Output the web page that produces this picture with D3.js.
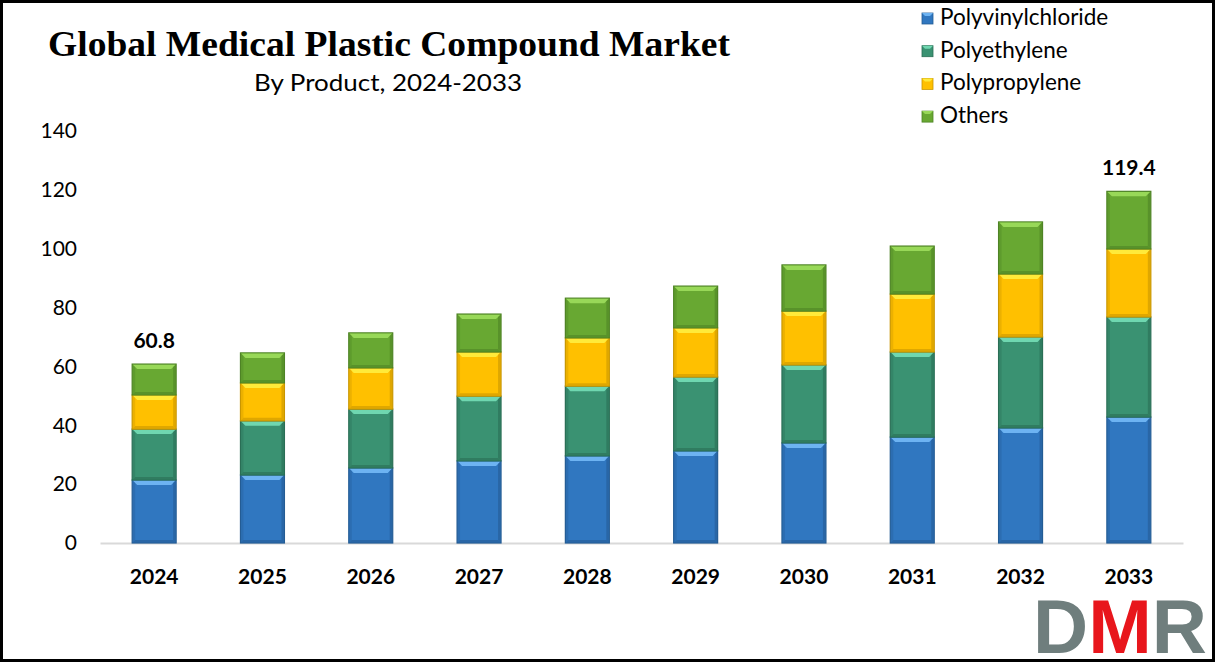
<!DOCTYPE html>
<html><head><meta charset="utf-8">
<script src="https://cdn.jsdelivr.net/npm/d3@7"></script>
<style>
html,body{margin:0;padding:0;background:#fff;}
svg{display:block;}
</style></head>
<body>
<script>
const years = ["2024","2025","2026","2027","2028","2029","2030","2031","2032","2033"];
const seriesNames = ["Polyvinylchloride","Polyethylene","Polypropylene","Others"];
const polyvinylchloride = [21.4,23.1,25.5,27.9,29.6,31.3,34.0,36.0,39.1,42.8];
const polyethylene      = [17.3,18.4,20.0,22.0,23.7,25.1,26.5,28.9,30.9,34.0];
const polypropylene     = [11.6,12.9,14.0,15.0,16.4,16.7,18.3,19.7,21.4,23.1];
const others            = [10.5,10.2,11.9,12.9,13.5,14.2,15.7,16.3,17.7,19.6];
const yTicks = [0,20,40,60,80,100,120,140];
const totalLabels = {"2024":"60.8","2033":"119.4"};

const colors = ["#3077C0","#3A9272","#FFC000","#68A832"];
const lightColors = ["#6DB3F2","#6FD7B0","#FFEA3A","#98D858"];
const darkColors = ["#245C94","#2A6E55","#C99600","#4E8325"];

const W=1215,H=662;
const svg=d3.select("body").append("svg").attr("width",W).attr("height",H);
svg.append("rect").attr("x",1.5).attr("y",1.5).attr("width",W-3).attr("height",H-3)
  .attr("fill","#fff").attr("stroke","#000").attr("stroke-width",3);

const x=d3.scaleBand().domain(years).range([100,1183]).paddingInner(0.594).paddingOuter(0.297);
const y=d3.scaleLinear().domain([0,140]).range([543,131]);

// title
svg.append("text").attr("x",48).attr("y",56).text("Global Medical Plastic Compound Market")
  .attr("font-family","Liberation Serif, Times New Roman, serif").attr("font-weight","bold")
  .attr("font-size",35).attr("textLength",682).attr("lengthAdjust","spacingAndGlyphs").attr("fill","#000");
svg.append("text").attr("x",254).attr("y",91).text("By Product, 2024-2033")
  .attr("font-family","Lato, Open Sans, sans-serif").attr("font-size",24)
  .attr("textLength",268).attr("lengthAdjust","spacingAndGlyphs").attr("fill","#000");

// y axis labels
const yAxis=d3.axisLeft(y).tickValues(yTicks).tickSize(0).tickPadding(0);
const ya=svg.append("g").attr("transform","translate(77,0)").call(yAxis);
ya.select(".domain").remove();
ya.selectAll("text").attr("font-family","Lato, Open Sans, sans-serif").attr("font-size",21).attr("fill","#000");

// x axis
const xAxis=d3.axisBottom(x).tickSize(0).tickPadding(0);
const xa=svg.append("g").attr("transform","translate(0,543)").call(xAxis);
xa.select(".domain").attr("stroke","#D9D9D9").attr("stroke-width",2);
xa.selectAll("text").attr("dy",0).attr("y",41).attr("font-family","Lato, Open Sans, sans-serif")
  .attr("font-weight","bold").attr("font-size",21).attr("fill","#000");

// stack
const rows=years.map((yr,i)=>({year:yr,Polyvinylchloride:polyvinylchloride[i],Polyethylene:polyethylene[i],Polypropylene:polypropylene[i],Others:others[i]}));
const stack=d3.stack().keys(seriesNames)(rows);
const bw=x.bandwidth();
stack.forEach((layer,si)=>{
  const g=svg.append("g");
  layer.forEach(d=>{
    const x0=x(d.data.year), y0=y(d[1]), y1=y(d[0]);
    g.append("rect").attr("x",x0).attr("y",y0).attr("width",bw).attr("height",y1-y0)
      .attr("fill",colors[si]).attr("stroke",darkColors[si]).attr("stroke-width",1.2);
    const b=5;
    g.append("path").attr("d",`M${x0+0.6},${y0+0.6}L${x0+bw-0.6},${y0+0.6}L${x0+bw-b},${y0+b}L${x0+b},${y0+b}Z`)
      .attr("fill",lightColors[si]);
    g.append("path").attr("d",`M${x0+bw-0.6},${y0+0.6}L${x0+bw-0.6},${y1-0.6}L${x0+bw-3},${y1-3}L${x0+bw-3},${y0+3}Z`)
      .attr("fill",darkColors[si]).attr("opacity",0.6);
    g.append("path").attr("d",`M${x0+0.6},${y0+0.6}L${x0+0.6},${y1-0.6}L${x0+3},${y1-3}L${x0+3},${y0+3}Z`)
      .attr("fill",darkColors[si]).attr("opacity",0.35);
    g.append("path").attr("d",`M${x0+0.6},${y1-0.6}L${x0+bw-0.6},${y1-0.6}L${x0+bw-3},${y1-3}L${x0+3},${y1-3}Z`)
      .attr("fill",darkColors[si]).attr("opacity",0.6);
  });
});

// total labels
const topLayer=stack[stack.length-1];
topLayer.forEach(d=>{
  const t=totalLabels[d.data.year];
  if(!t) return;
  svg.append("text").attr("x",x(d.data.year)+bw/2).attr("y",y(d[1])-16).attr("text-anchor","middle")
    .text(t).attr("font-family","Lato, Open Sans, sans-serif").attr("font-weight","bold").attr("font-size",21).attr("fill","#000");
});

// legend
const lg=svg.append("g");
seriesNames.forEach((n,i)=>{
  const yy=18+i*32.7;
  lg.append("rect").attr("x",922).attr("y",yy-5).attr("width",11).attr("height",11)
    .attr("fill",colors[i]).attr("stroke",darkColors[i]).attr("stroke-width",0.8);
  lg.append("path").attr("d",`M922,${yy-5}L933,${yy-5}L930,${yy-2}L925,${yy-2}Z`).attr("fill",lightColors[i]);
  lg.append("text").attr("x",940).attr("y",yy+7).text(n)
    .attr("font-family","Lato, Open Sans, sans-serif").attr("font-size",22.5).attr("fill","#000");
});

// DMR logo
const logo=svg.append("text").attr("x",1033).attr("y",653).attr("font-family","Liberation Sans, Arial, sans-serif")
  .attr("font-weight","bold").attr("font-size",76).attr("textLength",174).attr("lengthAdjust","spacingAndGlyphs");
logo.append("tspan").text("D").attr("fill","#6F7E7D");
logo.append("tspan").text("M").attr("fill","#E8161C");
logo.append("tspan").text("R").attr("fill","#6F7E7D");
</script>
</body></html>
